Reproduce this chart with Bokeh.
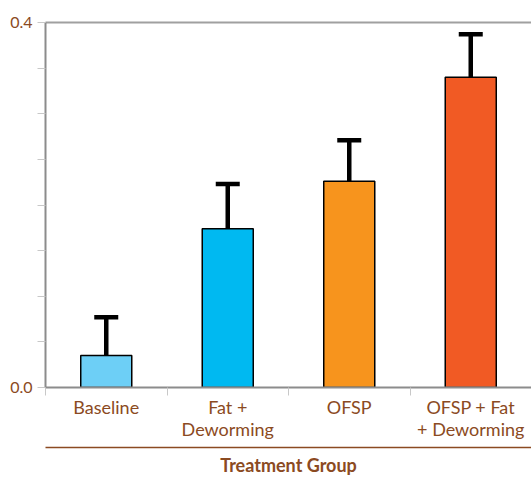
from bokeh.plotting import figure
from bokeh.models import (Range1d, FixedTicker, LinearAxis, ColumnDataSource,
                          Whisker, TeeHead, PrintfTickFormatter)
from bokeh.embed import file_html
from bokeh.resources import INLINE

categories = ["Baseline", "Fat +\nDeworming", "OFSP", "OFSP + Fat\n+ Deworming"]
values = [0.035, 0.174, 0.226, 0.340]
upper = [0.077, 0.223, 0.271, 0.387]
colors = ["#6DCFF6", "#00B9F1", "#F7941D", "#F15A24"]
y_major = [0.0, 0.4]
y_minor = [0.05, 0.1, 0.15, 0.2, 0.25, 0.3, 0.35]
x_title = "Treatment Group"

BROWN = "#8B4A22"
GRAY = "#8C8C8C"
TICK = "#C8C8C8"
FONT = "Lato"

xs = [i + 0.5 for i in range(len(categories))]
bounds = list(range(len(categories) + 1))
src = ColumnDataSource(dict(x=xs, value=values, upper=upper, color=colors))

p = figure(width=531, height=478, output_backend="svg", toolbar_location=None,
           x_range=Range1d(0, len(categories)), y_range=Range1d(0, 0.4),
           x_axis_type=None, y_axis_type=None,
           min_border_left=45, min_border_right=0, min_border_top=22,
           min_border_bottom=89, outline_line_color=None,
           background_fill_color="white", border_fill_color="white")
p.xgrid.visible = False
p.ygrid.visible = False
p.extra_x_ranges = {"aux": Range1d(0, 1)}

# y axis
yax = LinearAxis(ticker=FixedTicker(ticks=y_major, minor_ticks=y_minor),
                 formatter=PrintfTickFormatter(format="%.1f"))
yax.axis_line_color = GRAY
yax.axis_line_width = 2
yax.major_tick_in = 0
yax.major_tick_out = 8
yax.minor_tick_in = 0
yax.minor_tick_out = 8
yax.major_tick_line_color = TICK
yax.minor_tick_line_color = TICK
yax.major_label_standoff = 5
yax.major_label_text_color = BROWN
yax.major_label_text_font = FONT
yax.major_label_text_font_size = "16px"
p.add_layout(yax, "left")

# top line
top = LinearAxis(x_range_name="aux", ticker=FixedTicker(ticks=[]))
top.axis_line_color = "#A0A0A0"
top.axis_line_width = 2
top.major_tick_out = 0
top.minor_tick_out = 0
top.major_label_text_font_size = "0px"
p.add_layout(top, "above")

# x axis with category labels
xax = LinearAxis(ticker=FixedTicker(ticks=xs, minor_ticks=bounds))
xax.major_label_overrides = {x: c for x, c in zip(xs, categories)}
xax.axis_line_color = GRAY
xax.axis_line_width = 2
xax.major_tick_line_color = None
xax.major_tick_in = 0
xax.major_tick_out = 8
xax.minor_tick_in = 0
xax.minor_tick_out = 8
xax.minor_tick_line_color = TICK
xax.major_label_standoff = 0
xax.major_label_text_color = BROWN
xax.major_label_text_font = FONT
xax.major_label_text_font_size = "18px"
xax.major_label_text_line_height = 1.0
xax.axis_label = " "
xax.axis_label_text_font_size = "2px"
xax.axis_label_standoff = 0
p.add_layout(xax, "below")

# title axis with brown line
tax = LinearAxis(x_range_name="aux", ticker=FixedTicker(ticks=[]))
tax.axis_line_color = BROWN
tax.axis_line_width = 1.5
tax.major_tick_out = 0
tax.minor_tick_out = 0
tax.major_label_standoff = 0
tax.major_label_text_font_size = "0px"
tax.axis_label = x_title
tax.axis_label_text_font = FONT
tax.axis_label_text_font_style = "bold"
tax.axis_label_text_font_size = "18px"
tax.axis_label_text_color = BROWN
tax.axis_label_standoff = 6
p.add_layout(tax, "below")

p.vbar(x="x", top="value", bottom=0, width=0.42, fill_color="color",
       line_color="black", line_width=1.5, source=src)

wh = Whisker(source=src, base="x", upper="upper", lower="value", dimension="height",
             line_color="black", line_width=4.5,
             upper_head=TeeHead(size=24, line_width=4.5, line_color="black"),
             lower_head=None)
p.add_layout(wh)

open("out.html", "w").write(file_html(p, INLINE))
